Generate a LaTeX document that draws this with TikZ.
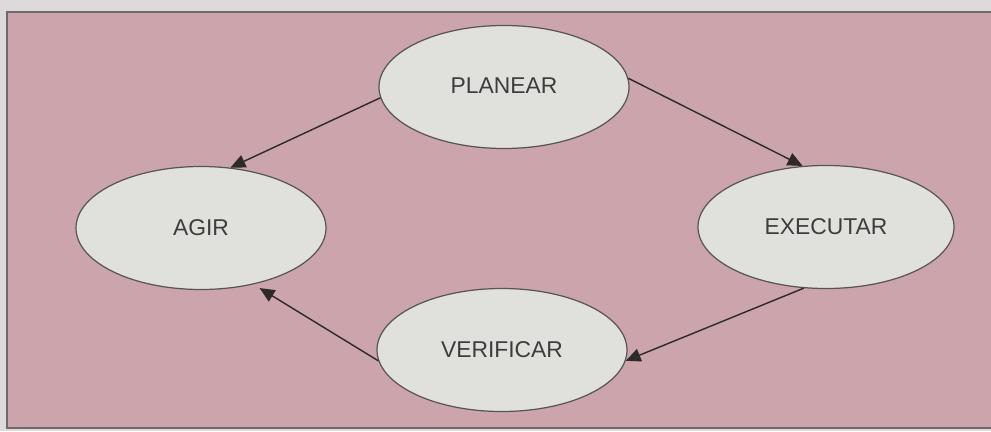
\documentclass[tikz,border=0pt]{standalone}
\usepackage{fontspec}
\setmainfont{Liberation Sans}
\usetikzlibrary{shapes.geometric,arrows.meta}

\definecolor{papel}{RGB}{220,218,218}
\definecolor{rosa}{RGB}{203,164,172}
\definecolor{moldura}{RGB}{110,104,106}
\definecolor{etapa}{RGB}{224,225,221}
\definecolor{traco}{RGB}{46,42,42}
\definecolor{texto}{RGB}{62,60,60}

\begin{document}
\begin{tikzpicture}[>={Triangle[length=8.5pt,width=7.5pt]},
    etapa/.style={ellipse,draw=traco!80,line width=.7pt,fill=etapa,inner sep=0pt,
        minimum width=5cm,minimum height=2.46cm,
        text=texto,font=\fontsize{13}{15}\selectfont},
    seta/.style={->,draw=traco,line width=.8pt}]
    \useasboundingbox (0,0) rectangle (19.82,8.62);
    \fill[papel] (0,0) rectangle (19.82,8.62);
    \filldraw[fill=rosa,draw=moldura,line width=.6pt] (.14,.06) rectangle (20.2,8.38);

    % ciclo PDCA
    \node[etapa] (planear) at (10.08,6.88) {\raisebox{1.5pt}{PLANEAR}};
    \node[etapa] (agir) at (4.02,4.06) {AGIR};
    \node[etapa,minimum width=5.12cm] (executar) at (16.52,4.08) {EXECUTAR};
    \node[etapa] (verificar) at (10.04,1.62) {VERIFICAR};

    \draw[seta] (planear.185) -- (agir.64);
    \draw[seta] (planear.4) -- (executar.111);
    \draw[seta] (executar.250) -- (verificar.355);
    \draw[seta,shorten >=4pt] (verificar.185) -- (agir.313);
\end{tikzpicture}
\end{document}
